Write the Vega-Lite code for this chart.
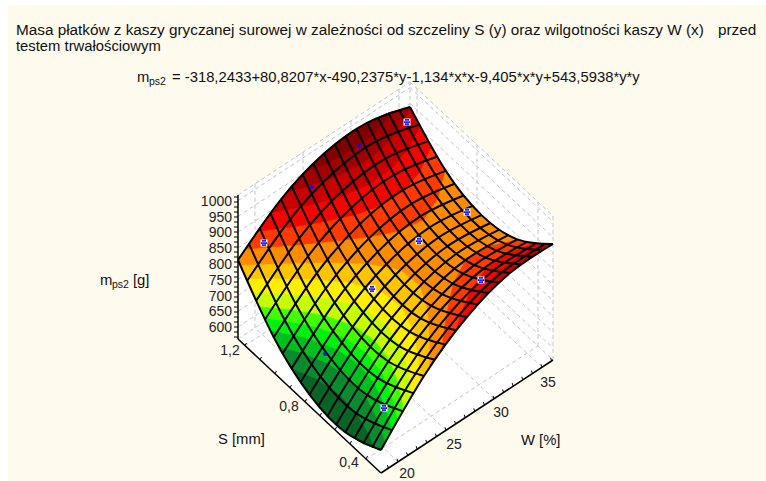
{"$schema":"https://vega.github.io/schema/vega-lite/v6.json","width":766,"height":481,"padding":0,"autosize":{"type":"none"},"background":"#FFFAEE","view":{"stroke":null},
"datasets":{
"margin":[{"x":0,"y":0,"x2":8,"y2":481},{"x":0,"y":0,"x2":766,"y2":5}],
"box":[{"x":238,"y":195},{"x":410,"y":82},{"x":553,"y":216},{"x":553,"y":360},{"x":381,"y":473},{"x":238,"y":339}],
"grid":[
{"x":238,"y":327,"x2":410,"y2":214},{"x":238,"y":311.2,"x2":410,"y2":198.2},{"x":238,"y":295.4,"x2":410,"y2":182.4},{"x":238,"y":279.6,"x2":410,"y2":166.6},{"x":238,"y":263.8,"x2":410,"y2":150.8},{"x":238,"y":248,"x2":410,"y2":135},{"x":238,"y":232.2,"x2":410,"y2":119.2},{"x":238,"y":216.4,"x2":410,"y2":103.4},{"x":238,"y":200.6,"x2":410,"y2":87.6},{"x":238,"y":195,"x2":410,"y2":82},{"x":238,"y":339,"x2":410,"y2":226},
{"x":410,"y":214,"x2":553,"y2":348},{"x":410,"y":198.2,"x2":553,"y2":332.2},{"x":410,"y":182.4,"x2":553,"y2":316.4},{"x":410,"y":166.6,"x2":553,"y2":300.6},{"x":410,"y":150.8,"x2":553,"y2":284.8},{"x":410,"y":135,"x2":553,"y2":269},{"x":410,"y":119.2,"x2":553,"y2":253.2},{"x":410,"y":103.4,"x2":553,"y2":237.4},{"x":410,"y":87.6,"x2":553,"y2":221.6},{"x":410,"y":82,"x2":553,"y2":216},{"x":410,"y":226,"x2":553,"y2":360},
{"x":255,"y":327.8,"x2":255,"y2":183.8},{"x":303,"y":296.3,"x2":303,"y2":152.3},{"x":351,"y":264.8,"x2":351,"y2":120.8},{"x":399,"y":233.2,"x2":399,"y2":89.2},{"x":410,"y":226,"x2":410,"y2":82},{"x":553,"y":360,"x2":553,"y2":216},{"x":417,"y":232.6,"x2":417,"y2":88.6},{"x":477,"y":288.8,"x2":477,"y2":144.8},{"x":538,"y":346,"x2":538,"y2":202},
{"x":398,"y":461.8,"x2":255,"y2":327.8},{"x":446,"y":430.3,"x2":303,"y2":296.3},{"x":494,"y":398.8,"x2":351,"y2":264.8},{"x":542,"y":367.2,"x2":399,"y2":233.2},{"x":245,"y":345.6,"x2":417,"y2":232.6},{"x":305,"y":401.8,"x2":477,"y2":288.8},{"x":366,"y":459,"x2":538,"y2":346}],
"axes":[{"x":238,"y":195,"x2":238,"y2":339},{"x":238,"y":339,"x2":381,"y2":473},{"x":381,"y":473,"x2":553,"y2":360}],
"ticks":[
{"x":234,"y":197,"x2":238,"y2":197},{"x":234,"y":202,"x2":238,"y2":202},{"x":234,"y":207,"x2":238,"y2":207},{"x":234,"y":212,"x2":238,"y2":212},{"x":234,"y":217,"x2":238,"y2":217},{"x":234,"y":222,"x2":238,"y2":222},{"x":234,"y":227,"x2":238,"y2":227},{"x":234,"y":232,"x2":238,"y2":232},{"x":234,"y":237,"x2":238,"y2":237},{"x":234,"y":242,"x2":238,"y2":242},{"x":234,"y":247,"x2":238,"y2":247},{"x":234,"y":252,"x2":238,"y2":252},{"x":234,"y":257,"x2":238,"y2":257},{"x":234,"y":262,"x2":238,"y2":262},{"x":234,"y":267,"x2":238,"y2":267},{"x":234,"y":272,"x2":238,"y2":272},{"x":234,"y":277,"x2":238,"y2":277},{"x":234,"y":282,"x2":238,"y2":282},{"x":234,"y":287,"x2":238,"y2":287},{"x":234,"y":292,"x2":238,"y2":292},{"x":234,"y":297,"x2":238,"y2":297},{"x":234,"y":302,"x2":238,"y2":302},{"x":234,"y":307,"x2":238,"y2":307},{"x":234,"y":312,"x2":238,"y2":312},{"x":234,"y":317,"x2":238,"y2":317},{"x":234,"y":322,"x2":238,"y2":322},{"x":234,"y":327,"x2":238,"y2":327},{"x":234,"y":332,"x2":238,"y2":332},{"x":234,"y":337,"x2":238,"y2":337},
{"x":245,"y":345.6,"x2":246.5,"y2":343},{"x":260,"y":359.7,"x2":261.5,"y2":357},{"x":275,"y":373.7,"x2":276.5,"y2":371},{"x":290,"y":387.8,"x2":291.5,"y2":385},{"x":305,"y":401.8,"x2":306.5,"y2":399},{"x":320,"y":415.9,"x2":321.5,"y2":413},{"x":335,"y":429.9,"x2":336.5,"y2":427},{"x":350,"y":444,"x2":351.5,"y2":441},{"x":366,"y":459,"x2":367.5,"y2":456},
{"x":388.4,"y":468.1,"x2":387.4,"y2":465},{"x":398,"y":461.8,"x2":397,"y2":458.8},{"x":407.6,"y":455.5,"x2":406.6,"y2":452.5},{"x":417.2,"y":449.2,"x2":416.2,"y2":446.2},{"x":426.8,"y":442.9,"x2":425.8,"y2":439.9},{"x":436.4,"y":436.6,"x2":435.4,"y2":433.6},{"x":446,"y":430.3,"x2":445,"y2":427.3},{"x":455.6,"y":424,"x2":454.6,"y2":421},{"x":465.2,"y":417.7,"x2":464.2,"y2":414.7},{"x":474.8,"y":411.4,"x2":473.8,"y2":408.4},{"x":484.4,"y":405.1,"x2":483.4,"y2":402.1},{"x":494,"y":398.8,"x2":493,"y2":395.8},{"x":503.6,"y":392.5,"x2":502.6,"y2":389.5},{"x":513.2,"y":386.1,"x2":512.2,"y2":383.1},{"x":522.8,"y":379.8,"x2":521.8,"y2":376.8},{"x":532.4,"y":373.5,"x2":531.4,"y2":370.5},{"x":542,"y":367.2,"x2":541,"y2":364.2},{"x":551.6,"y":360.9,"x2":550.6,"y2":357.9}],
"bands":[
{"p":"base","b":"800-830","x":381,"y":450},{"p":"base","b":"800-830","x":363.1,"y":443.6},{"p":"base","b":"800-830","x":345.3,"y":432.2},{"p":"base","b":"800-830","x":327.4,"y":415.9},{"p":"base","b":"800-830","x":309.5,"y":394.6},{"p":"base","b":"800-830","x":291.6,"y":368.4},{"p":"base","b":"800-830","x":273.8,"y":337.2},{"p":"base","b":"800-830","x":255.9,"y":301.1},{"p":"base","b":"800-830","x":238,"y":260},{"p":"base","b":"800-830","x":259.5,"y":227.7},{"p":"base","b":"800-830","x":281,"y":199.3},{"p":"base","b":"800-830","x":302.5,"y":174.5},{"p":"base","b":"800-830","x":324,"y":153.5},{"p":"base","b":"800-830","x":345.5,"y":136.2},{"p":"base","b":"800-830","x":367,"y":122.8},{"p":"base","b":"800-830","x":388.5,"y":113},{"p":"base","b":"800-830","x":410,"y":107},{"p":"base","b":"800-830","x":427.9,"y":141.4},{"p":"base","b":"800-830","x":445.8,"y":170.9},{"p":"base","b":"800-830","x":463.6,"y":195.5},{"p":"base","b":"800-830","x":481.5,"y":215.1},{"p":"base","b":"800-830","x":499.4,"y":229.7},{"p":"base","b":"800-830","x":517.3,"y":239.4},{"p":"base","b":"800-830","x":535.1,"y":244.2},{"p":"base","b":"800-830","x":553,"y":244},{"p":"base","b":"800-830","x":531.5,"y":256.6},{"p":"base","b":"800-830","x":510,"y":273},{"p":"base","b":"800-830","x":488.5,"y":293.1},{"p":"base","b":"800-830","x":467,"y":317},{"p":"base","b":"800-830","x":445.5,"y":344.6},{"p":"base","b":"800-830","x":424,"y":376},{"p":"base","b":"800-830","x":402.5,"y":411.1},
{"p":"l800","b":"775-800","x":429.3,"y":368},{"p":"l800","b":"775-800","x":429.3,"y":338.4},{"p":"l800","b":"775-800","x":427.3,"y":310.3},{"p":"l800","b":"775-800","x":419.7,"y":286.1},{"p":"l800","b":"775-800","x":400.1,"y":270.1},{"p":"l800","b":"775-800","x":366.1,"y":264},{"p":"l800","b":"775-800","x":324.7,"y":262.9},{"p":"l800","b":"775-800","x":280.2,"y":264},{"p":"l800","b":"775-800","x":240.3,"y":265.5},{"p":"l800","b":"775-800","x":246.9,"y":281.2},{"p":"l800","b":"775-800","x":255.9,"y":301.1},{"p":"l800","b":"775-800","x":273.8,"y":337.2},{"p":"l800","b":"775-800","x":291.6,"y":368.4},{"p":"l800","b":"775-800","x":309.5,"y":394.6},{"p":"l800","b":"775-800","x":327.4,"y":415.9},{"p":"l800","b":"775-800","x":345.3,"y":432.2},{"p":"l800","b":"775-800","x":363.1,"y":443.6},{"p":"l800","b":"775-800","x":381,"y":450},{"p":"l800","b":"775-800","x":402.5,"y":411.1},{"p":"l800","b":"775-800","x":424,"y":376},
{"p":"l775","b":"750-775","x":420,"y":382.3},{"p":"l775","b":"750-775","x":417.7,"y":354.3},{"p":"l775","b":"750-775","x":412.3,"y":328.6},{"p":"l775","b":"750-775","x":400.9,"y":306.9},{"p":"l775","b":"750-775","x":380.3,"y":291.5},{"p":"l775","b":"750-775","x":349.6,"y":283.1},{"p":"l775","b":"750-775","x":311.9,"y":279.6},{"p":"l775","b":"750-775","x":270.1,"y":278.8},{"p":"l775","b":"750-775","x":246,"y":279},{"p":"l775","b":"750-775","x":255.9,"y":301.1},{"p":"l775","b":"750-775","x":273.8,"y":337.2},{"p":"l775","b":"750-775","x":291.6,"y":368.4},{"p":"l775","b":"750-775","x":309.5,"y":394.6},{"p":"l775","b":"750-775","x":327.4,"y":415.9},{"p":"l775","b":"750-775","x":345.3,"y":432.2},{"p":"l775","b":"750-775","x":363.1,"y":443.6},{"p":"l775","b":"750-775","x":381,"y":450},{"p":"l775","b":"750-775","x":402.5,"y":411.1},
{"p":"l750","b":"725-750","x":411.5,"y":396},{"p":"l750","b":"725-750","x":407.4,"y":369.3},{"p":"l750","b":"725-750","x":399.9,"y":345},{"p":"l750","b":"725-750","x":386.7,"y":324.6},{"p":"l750","b":"725-750","x":365.7,"y":309.5},{"p":"l750","b":"725-750","x":336.5,"y":300},{"p":"l750","b":"725-750","x":300.9,"y":295.1},{"p":"l750","b":"725-750","x":261,"y":292.9},{"p":"l750","b":"725-750","x":252,"y":292.6},{"p":"l750","b":"725-750","x":255.9,"y":301.1},{"p":"l750","b":"725-750","x":273.8,"y":337.2},{"p":"l750","b":"725-750","x":291.6,"y":368.4},{"p":"l750","b":"725-750","x":309.5,"y":394.6},{"p":"l750","b":"725-750","x":327.4,"y":415.9},{"p":"l750","b":"725-750","x":345.3,"y":432.2},{"p":"l750","b":"725-750","x":363.1,"y":443.6},{"p":"l750","b":"725-750","x":381,"y":450},{"p":"l750","b":"725-750","x":402.5,"y":411.1},
{"p":"l725","b":"705-725","x":403.5,"y":409.4},{"p":"l725","b":"705-725","x":398.1,"y":383.6},{"p":"l725","b":"705-725","x":389.1,"y":360.3},{"p":"l725","b":"705-725","x":374.7,"y":340.7},{"p":"l725","b":"705-725","x":353.5,"y":325.7},{"p":"l725","b":"705-725","x":325.2,"y":315.7},{"p":"l725","b":"705-725","x":291,"y":309.7},{"p":"l725","b":"705-725","x":258.6,"y":306.9},{"p":"l725","b":"705-725","x":273.8,"y":337.2},{"p":"l725","b":"705-725","x":291.6,"y":368.4},{"p":"l725","b":"705-725","x":309.5,"y":394.6},{"p":"l725","b":"705-725","x":327.4,"y":415.9},{"p":"l725","b":"705-725","x":345.3,"y":432.2},{"p":"l725","b":"705-725","x":363.1,"y":443.6},{"p":"l725","b":"705-725","x":381,"y":450},
{"p":"l705","b":"685-705","x":397.5,"y":419.9},{"p":"l705","b":"685-705","x":391.2,"y":394.7},{"p":"l705","b":"685-705","x":381.2,"y":372},{"p":"l705","b":"685-705","x":366.2,"y":352.9},{"p":"l705","b":"685-705","x":344.9,"y":338},{"p":"l705","b":"685-705","x":317.1,"y":327.6},{"p":"l705","b":"685-705","x":283.7,"y":321},{"p":"l705","b":"685-705","x":264.3,"y":318.7},{"p":"l705","b":"685-705","x":273.8,"y":337.2},{"p":"l705","b":"685-705","x":291.6,"y":368.4},{"p":"l705","b":"685-705","x":309.5,"y":394.6},{"p":"l705","b":"685-705","x":327.4,"y":415.9},{"p":"l705","b":"685-705","x":345.3,"y":432.2},{"p":"l705","b":"685-705","x":363.1,"y":443.6},{"p":"l705","b":"685-705","x":381,"y":450},
{"p":"l685","b":"660-685","x":391.7,"y":430.2},{"p":"l685","b":"660-685","x":384.6,"y":405.5},{"p":"l685","b":"660-685","x":373.9,"y":383.3},{"p":"l685","b":"660-685","x":358.4,"y":364.5},{"p":"l685","b":"660-685","x":337,"y":349.7},{"p":"l685","b":"660-685","x":309.6,"y":339.1},{"p":"l685","b":"660-685","x":276.9,"y":332},{"p":"l685","b":"660-685","x":270.5,"y":331},{"p":"l685","b":"660-685","x":273.8,"y":337.2},{"p":"l685","b":"660-685","x":291.6,"y":368.4},{"p":"l685","b":"660-685","x":309.5,"y":394.6},{"p":"l685","b":"660-685","x":327.4,"y":415.9},{"p":"l685","b":"660-685","x":345.3,"y":432.2},{"p":"l685","b":"660-685","x":363.1,"y":443.6},{"p":"l685","b":"660-685","x":381,"y":450},
{"p":"l660","b":"630-660","x":384.9,"y":442.8},{"p":"l660","b":"630-660","x":376.9,"y":418.7},{"p":"l660","b":"630-660","x":365.5,"y":397},{"p":"l660","b":"630-660","x":349.4,"y":378.6},{"p":"l660","b":"630-660","x":327.9,"y":363.9},{"p":"l660","b":"630-660","x":300.9,"y":352.9},{"p":"l660","b":"630-660","x":279.3,"y":347.5},{"p":"l660","b":"630-660","x":291.6,"y":368.4},{"p":"l660","b":"630-660","x":309.5,"y":394.6},{"p":"l660","b":"630-660","x":327.4,"y":415.9},{"p":"l660","b":"630-660","x":345.3,"y":432.2},{"p":"l660","b":"630-660","x":363.1,"y":443.6},{"p":"l660","b":"630-660","x":381,"y":450},
{"p":"l630","b":"<630","x":373.9,"y":448},{"p":"l630","b":"<630","x":368.3,"y":434.1},{"p":"l630","b":"<630","x":356,"y":413},{"p":"l630","b":"<630","x":339.5,"y":394.9},{"p":"l630","b":"<630","x":317.9,"y":380.2},{"p":"l630","b":"<630","x":291.6,"y":368.4},{"p":"l630","b":"<630","x":309.5,"y":394.6},{"p":"l630","b":"<630","x":327.4,"y":415.9},{"p":"l630","b":"<630","x":345.3,"y":432.2},{"p":"l630","b":"<630","x":363.1,"y":443.6},
{"p":"t830","b":"830-860","x":245,"y":249.1},{"p":"t830","b":"830-860","x":267.9,"y":247.2},{"p":"t830","b":"830-860","x":301.7,"y":244.4},{"p":"t830","b":"830-860","x":335.1,"y":241.1},{"p":"t830","b":"830-860","x":367.7,"y":237.1},{"p":"t830","b":"830-860","x":398.4,"y":231.2},{"p":"t830","b":"830-860","x":423.4,"y":219.8},{"p":"t830","b":"830-860","x":437.8,"y":198.2},{"p":"t830","b":"830-860","x":445.1,"y":169.9},{"p":"t830","b":"830-860","x":427.9,"y":141.4},{"p":"t830","b":"830-860","x":410,"y":107},{"p":"t830","b":"830-860","x":388.5,"y":113},{"p":"t830","b":"830-860","x":367,"y":122.8},{"p":"t830","b":"830-860","x":345.5,"y":136.2},{"p":"t830","b":"830-860","x":324,"y":153.5},{"p":"t830","b":"830-860","x":302.5,"y":174.5},{"p":"t830","b":"830-860","x":281,"y":199.3},{"p":"t830","b":"830-860","x":259.5,"y":227.7},
{"p":"b830","b":"830-860","x":441.7,"y":349.9},{"p":"b830","b":"830-860","x":442.4,"y":344.3},{"p":"b830","b":"830-860","x":446.8,"y":313.1},{"p":"b830","b":"830-860","x":453.3,"y":283.8},{"p":"b830","b":"830-860","x":465.4,"y":260.1},{"p":"b830","b":"830-860","x":488.1,"y":246.5},{"p":"b830","b":"830-860","x":517.9,"y":239.7},{"p":"b830","b":"830-860","x":535.1,"y":244.2},{"p":"b830","b":"830-860","x":553,"y":244},{"p":"b830","b":"830-860","x":531.5,"y":256.6},{"p":"b830","b":"830-860","x":510,"y":273},{"p":"b830","b":"830-860","x":488.5,"y":293.1},{"p":"b830","b":"830-860","x":467,"y":317},
{"p":"t860","b":"860-890","x":256.9,"y":231.5},{"p":"t860","b":"860-890","x":260.9,"y":231},{"p":"t860","b":"860-890","x":293.3,"y":226.8},{"p":"t860","b":"860-890","x":324.7,"y":221.6},{"p":"t860","b":"860-890","x":354.5,"y":214.9},{"p":"t860","b":"860-890","x":381.4,"y":205.4},{"p":"t860","b":"860-890","x":403.6,"y":191.3},{"p":"t860","b":"860-890","x":419.8,"y":171.6},{"p":"t860","b":"860-890","x":431,"y":147},{"p":"t860","b":"860-890","x":427.9,"y":141.4},{"p":"t860","b":"860-890","x":410,"y":107},{"p":"t860","b":"860-890","x":388.5,"y":113},{"p":"t860","b":"860-890","x":367,"y":122.8},{"p":"t860","b":"860-890","x":345.5,"y":136.2},{"p":"t860","b":"860-890","x":324,"y":153.5},{"p":"t860","b":"860-890","x":302.5,"y":174.5},{"p":"t860","b":"860-890","x":281,"y":199.3},
{"p":"b860","b":"860-890","x":456.1,"y":330.5},{"p":"b860","b":"860-890","x":460.1,"y":316.4},{"p":"b860","b":"860-890","x":470.3,"y":290.7},{"p":"b860","b":"860-890","x":485.2,"y":269.6},{"p":"b860","b":"860-890","x":506,"y":254.2},{"p":"b860","b":"860-890","x":532,"y":243.7},{"p":"b860","b":"860-890","x":535.1,"y":244.2},{"p":"b860","b":"860-890","x":553,"y":244},{"p":"b860","b":"860-890","x":531.5,"y":256.6},{"p":"b860","b":"860-890","x":510,"y":273},{"p":"b860","b":"860-890","x":488.5,"y":293.1},{"p":"b860","b":"860-890","x":467,"y":317},
{"p":"t890","b":"890-920","x":270.5,"y":212.7},{"p":"t890","b":"890-920","x":285.7,"y":210},{"p":"t890","b":"890-920","x":315.7,"y":203.6},{"p":"t890","b":"890-920","x":343.9,"y":195.3},{"p":"t890","b":"890-920","x":369.2,"y":184.2},{"p":"t890","b":"890-920","x":390.6,"y":169.4},{"p":"t890","b":"890-920","x":407.4,"y":150.1},{"p":"t890","b":"890-920","x":420.1,"y":127},{"p":"t890","b":"890-920","x":410,"y":107},{"p":"t890","b":"890-920","x":388.5,"y":113},{"p":"t890","b":"890-920","x":367,"y":122.8},{"p":"t890","b":"890-920","x":345.5,"y":136.2},{"p":"t890","b":"890-920","x":324,"y":153.5},{"p":"t890","b":"890-920","x":302.5,"y":174.5},{"p":"t890","b":"890-920","x":281,"y":199.3},
{"p":"b890","b":"890-920","x":474.2,"y":308.6},{"p":"b890","b":"890-920","x":482.4,"y":292.9},{"p":"b890","b":"890-920","x":498.1,"y":272.6},{"p":"b890","b":"890-920","x":518.4,"y":256.6},{"p":"b890","b":"890-920","x":542.9,"y":244.7},{"p":"b890","b":"890-920","x":553,"y":244},{"p":"b890","b":"890-920","x":531.5,"y":256.6},{"p":"b890","b":"890-920","x":510,"y":273},{"p":"b890","b":"890-920","x":488.5,"y":293.1},
{"p":"t920","b":"920-945","x":287.1,"y":191.9},{"p":"t920","b":"920-945","x":307.8,"y":186.4},{"p":"t920","b":"920-945","x":334.9,"y":177.1},{"p":"t920","b":"920-945","x":359.3,"y":165.2},{"p":"t920","b":"920-945","x":380.2,"y":150},{"p":"t920","b":"920-945","x":397.3,"y":131},{"p":"t920","b":"920-945","x":410.8,"y":108.6},{"p":"t920","b":"920-945","x":410,"y":107},{"p":"t920","b":"920-945","x":388.5,"y":113},{"p":"t920","b":"920-945","x":367,"y":122.8},{"p":"t920","b":"920-945","x":345.5,"y":136.2},{"p":"t920","b":"920-945","x":324,"y":153.5},{"p":"t920","b":"920-945","x":302.5,"y":174.5},
{"p":"b920","b":"920-945","x":502.3,"y":279.8},{"p":"b920","b":"920-945","x":508.5,"y":273.1},{"p":"b920","b":"920-945","x":528.6,"y":256.8},{"p":"b920","b":"920-945","x":552.2,"y":244.1},{"p":"b920","b":"920-945","x":553,"y":244},{"p":"b920","b":"920-945","x":531.5,"y":256.6},{"p":"b920","b":"920-945","x":510,"y":273},
{"p":"t945","b":">945","x":305.4,"y":171.5},{"p":"t945","b":">945","x":328.2,"y":162.8},{"p":"t945","b":">945","x":352,"y":150.3},{"p":"t945","b":">945","x":372.7,"y":134.8},{"p":"t945","b":">945","x":389.9,"y":116},{"p":"t945","b":">945","x":393.4,"y":111.3},{"p":"t945","b":">945","x":388.5,"y":113},{"p":"t945","b":">945","x":367,"y":122.8},{"p":"t945","b":">945","x":345.5,"y":136.2},{"p":"t945","b":">945","x":324,"y":153.5}],
"mesh":[
{"l":"w0","x":381,"y":450},{"l":"w0","x":345.25,"y":432.2},{"l":"w0","x":309.5,"y":394.6},{"l":"w0","x":273.75,"y":337.2},{"l":"w0","x":238,"y":260},
{"l":"w1","x":391.8,"y":430.1},{"l":"w1","x":356,"y":413.1},{"l":"w1","x":320.3,"y":376.3},{"l":"w1","x":284.5,"y":319.8},{"l":"w1","x":248.8,"y":243.4},
{"l":"w2","x":402.5,"y":411.1},{"l":"w2","x":366.8,"y":394.9},{"l":"w2","x":331,"y":359},{"l":"w2","x":295.3,"y":303.3},{"l":"w2","x":259.5,"y":227.7},
{"l":"w3","x":413.3,"y":393.1},{"l":"w3","x":377.5,"y":377.8},{"l":"w3","x":341.8,"y":342.6},{"l":"w3","x":306,"y":287.7},{"l":"w3","x":270.3,"y":213},
{"l":"w4","x":424,"y":376},{"l":"w4","x":388.3,"y":361.5},{"l":"w4","x":352.5,"y":327.2},{"l":"w4","x":316.8,"y":273.1},{"l":"w4","x":281,"y":199.3},
{"l":"w5","x":434.8,"y":359.8},{"l":"w5","x":399,"y":346.1},{"l":"w5","x":363.3,"y":312.7},{"l":"w5","x":327.5,"y":259.4},{"l":"w5","x":291.8,"y":186.4},
{"l":"w6","x":445.5,"y":344.6},{"l":"w6","x":409.8,"y":331.8},{"l":"w6","x":374,"y":299.1},{"l":"w6","x":338.3,"y":246.7},{"l":"w6","x":302.5,"y":174.5},
{"l":"w7","x":456.3,"y":330.3},{"l":"w7","x":420.5,"y":318.3},{"l":"w7","x":384.8,"y":286.5},{"l":"w7","x":349,"y":234.9},{"l":"w7","x":313.3,"y":163.5},
{"l":"w8","x":467,"y":317},{"l":"w8","x":431.3,"y":305.8},{"l":"w8","x":395.5,"y":274.8},{"l":"w8","x":359.8,"y":224.1},{"l":"w8","x":324,"y":153.5},
{"l":"w9","x":477.8,"y":304.6},{"l":"w9","x":442,"y":294.2},{"l":"w9","x":406.3,"y":264.1},{"l":"w9","x":370.5,"y":214.1},{"l":"w9","x":334.8,"y":144.4},
{"l":"w10","x":488.5,"y":293.1},{"l":"w10","x":452.8,"y":283.6},{"l":"w10","x":417,"y":254.2},{"l":"w10","x":381.3,"y":205.1},{"l":"w10","x":345.5,"y":136.2},
{"l":"w11","x":499.3,"y":282.6},{"l":"w11","x":463.5,"y":273.9},{"l":"w11","x":427.8,"y":245.4},{"l":"w11","x":392,"y":197.1},{"l":"w11","x":356.3,"y":129},
{"l":"w12","x":510,"y":273},{"l":"w12","x":474.3,"y":265.1},{"l":"w12","x":438.5,"y":237.5},{"l":"w12","x":402.8,"y":190},{"l":"w12","x":367,"y":122.8},
{"l":"w13","x":520.8,"y":264.3},{"l":"w13","x":485,"y":257.3},{"l":"w13","x":449.3,"y":230.4},{"l":"w13","x":413.5,"y":183.8},{"l":"w13","x":377.8,"y":117.4},
{"l":"w14","x":531.5,"y":256.6},{"l":"w14","x":495.8,"y":250.4},{"l":"w14","x":460,"y":224.4},{"l":"w14","x":424.3,"y":178.6},{"l":"w14","x":388.5,"y":113},
{"l":"w15","x":542.3,"y":249.8},{"l":"w15","x":506.5,"y":244.4},{"l":"w15","x":470.8,"y":219.2},{"l":"w15","x":435,"y":174.3},{"l":"w15","x":399.3,"y":109.5},
{"l":"w16","x":553,"y":244},{"l":"w16","x":517.3,"y":239.4},{"l":"w16","x":481.5,"y":215.1},{"l":"w16","x":445.8,"y":170.9},{"l":"w16","x":410,"y":107},
{"l":"s0","x":381,"y":450},{"l":"s0","x":424,"y":376},{"l":"s0","x":467,"y":317},{"l":"s0","x":510,"y":273},{"l":"s0","x":553,"y":244},
{"l":"s1","x":372.1,"y":447.4},{"l":"s1","x":415.1,"y":374.2},{"l":"s1","x":458.1,"y":316.1},{"l":"s1","x":501.1,"y":272.9},{"l":"s1","x":544.1,"y":244.7},
{"l":"s2","x":363.1,"y":443.6},{"l":"s2","x":406.1,"y":371.2},{"l":"s2","x":449.1,"y":313.9},{"l":"s2","x":492.1,"y":271.5},{"l":"s2","x":535.1,"y":244.2},
{"l":"s3","x":354.2,"y":438.5},{"l":"s3","x":397.2,"y":367},{"l":"s3","x":440.2,"y":310.5},{"l":"s3","x":483.2,"y":268.9},{"l":"s3","x":526.2,"y":242.4},
{"l":"s4","x":345.3,"y":432.2},{"l":"s4","x":388.3,"y":361.5},{"l":"s4","x":431.3,"y":305.8},{"l":"s4","x":474.3,"y":265.1},{"l":"s4","x":517.3,"y":239.4},
{"l":"s5","x":336.3,"y":424.6},{"l":"s5","x":379.3,"y":354.8},{"l":"s5","x":422.3,"y":300},{"l":"s5","x":465.3,"y":260.1},{"l":"s5","x":508.3,"y":235.2},
{"l":"s6","x":327.4,"y":415.9},{"l":"s6","x":370.4,"y":346.8},{"l":"s6","x":413.4,"y":292.8},{"l":"s6","x":456.4,"y":253.8},{"l":"s6","x":499.4,"y":229.7},
{"l":"s7","x":318.4,"y":405.8},{"l":"s7","x":361.4,"y":337.6},{"l":"s7","x":404.4,"y":284.4},{"l":"s7","x":447.4,"y":246.2},{"l":"s7","x":490.4,"y":223},
{"l":"s8","x":309.5,"y":394.6},{"l":"s8","x":352.5,"y":327.2},{"l":"s8","x":395.5,"y":274.8},{"l":"s8","x":438.5,"y":237.5},{"l":"s8","x":481.5,"y":215.1},
{"l":"s9","x":300.6,"y":382.1},{"l":"s9","x":343.6,"y":315.5},{"l":"s9","x":386.6,"y":264},{"l":"s9","x":429.6,"y":227.4},{"l":"s9","x":472.6,"y":205.9},
{"l":"s10","x":291.6,"y":368.4},{"l":"s10","x":334.6,"y":302.6},{"l":"s10","x":377.6,"y":251.9},{"l":"s10","x":420.6,"y":216.2},{"l":"s10","x":463.6,"y":195.5},
{"l":"s11","x":282.7,"y":353.4},{"l":"s11","x":325.7,"y":288.5},{"l":"s11","x":368.7,"y":238.6},{"l":"s11","x":411.7,"y":203.7},{"l":"s11","x":454.7,"y":183.8},
{"l":"s12","x":273.8,"y":337.2},{"l":"s12","x":316.8,"y":273.1},{"l":"s12","x":359.8,"y":224.1},{"l":"s12","x":402.8,"y":190},{"l":"s12","x":445.8,"y":170.9},
{"l":"s13","x":264.8,"y":319.7},{"l":"s13","x":307.8,"y":256.5},{"l":"s13","x":350.8,"y":208.3},{"l":"s13","x":393.8,"y":175},{"l":"s13","x":436.8,"y":156.8},
{"l":"s14","x":255.9,"y":301.1},{"l":"s14","x":298.9,"y":238.7},{"l":"s14","x":341.9,"y":191.3},{"l":"s14","x":384.9,"y":158.8},{"l":"s14","x":427.9,"y":141.4},
{"l":"s15","x":246.9,"y":281.2},{"l":"s15","x":289.9,"y":219.6},{"l":"s15","x":332.9,"y":173},{"l":"s15","x":375.9,"y":141.4},{"l":"s15","x":418.9,"y":124.8},
{"l":"s16","x":238,"y":260},{"l":"s16","x":281,"y":199.3},{"l":"s16","x":324,"y":153.5},{"l":"s16","x":367,"y":122.8},{"l":"s16","x":410,"y":107}],
"obs":[{"x":264,"y":243},{"x":407,"y":122},{"x":467,"y":212},{"x":419,"y":241},{"x":481,"y":280},{"x":384,"y":408},{"x":372,"y":289}],
"hidden":[{"x":312,"y":187},{"x":359,"y":146},{"x":325,"y":354}],
"head":[{"x":16,"y":30,"t":"Masa płatków z kaszy gryczanej surowej w zależności od szczeliny S (y) oraz wilgotności kaszy W (x)"},{"x":718,"y":30,"t":"przed"}],
"title":[{"x":16,"y":47,"t":"testem trwałościowym"},{"x":137,"y":78,"t":"m"},{"x":172,"y":78,"t":"= -318,2433+80,8207*x-490,2375*y-1,134*x*x-9,405*x*y+543,5938*y*y"},{"x":100,"y":281,"t":"m"},{"x":133,"y":281,"t":"[g]"},{"x":218,"y":440,"t":"S [mm]"},{"x":521,"y":441,"t":"W [%]"}],
"subs":[{"x":149,"y":82,"t":"ps2"},{"x":112,"y":285,"t":"ps2"}],
"zlab":[{"x":232,"y":201.7,"t":"1000"},{"x":232,"y":217.5,"t":"950"},{"x":232,"y":233.3,"t":"900"},{"x":232,"y":249.1,"t":"850"},{"x":232,"y":264.9,"t":"800"},{"x":232,"y":280.7,"t":"750"},{"x":232,"y":296.5,"t":"700"},{"x":232,"y":312.3,"t":"650"},{"x":232,"y":328.1,"t":"600"}],
"axlab":[{"x":230,"y":351,"t":"1,2"},{"x":289,"y":407,"t":"0,8"},{"x":349,"y":463,"t":"0,4"},{"x":407,"y":474,"t":"20"},{"x":454,"y":445,"t":"25"},{"x":501,"y":413,"t":"30"},{"x":548,"y":383,"t":"35"}]
},
"encoding":{"x":{"field":"x","type":"quantitative","scale":{"domain":[0,766],"nice":false,"zero":false},"axis":null},"y":{"field":"y","type":"quantitative","scale":{"domain":[0,481],"reverse":true,"nice":false,"zero":false},"axis":null}},
"layer":[
{"data":{"name":"margin"},"mark":{"type":"rect","fill":"#ffffff"},"encoding":{"x2":{"field":"x2"},"y2":{"field":"y2"}}},
{"data":{"name":"box"},"mark":{"type":"line","order":false,"fill":"#ffffff","stroke":null},"encoding":{}},
{"data":{"name":"grid"},"mark":{"type":"rule","stroke":"#c4c4c4","strokeWidth":1,"strokeDash":[4,3]},"encoding":{"x2":{"field":"x2"},"y2":{"field":"y2"}}},
{"data":{"name":"axes"},"mark":{"type":"rule","stroke":"#000000","strokeWidth":1.5},"encoding":{"x2":{"field":"x2"},"y2":{"field":"y2"}}},
{"data":{"name":"ticks"},"mark":{"type":"rule","stroke":"#000000","strokeWidth":1},"encoding":{"x2":{"field":"x2"},"y2":{"field":"y2"}}},
{"data":{"name":"bands"},"mark":{"type":"line","order":false,"strokeWidth":0.5},"encoding":{"detail":{"field":"p"},"fill":{"field":"b","type":"nominal","legend":null,"scale":{"domain":["<630","630-660","660-685","685-705","705-725","725-750","750-775","775-800","800-830","830-860","860-890","890-920","920-945",">945"],"range":["#0a6428","#0b8a30","#00c020","#00f010","#40ff00","#c8ff00","#ffee00","#ffc400","#ff8c00","#ff3a00","#f00800","#c80000","#a00000","#820000"]}},"stroke":{"field":"b","type":"nominal","legend":null,"scale":{"domain":["<630","630-660","660-685","685-705","705-725","725-750","750-775","775-800","800-830","830-860","860-890","890-920","920-945",">945"],"range":["#0a6428","#0b8a30","#00c020","#00f010","#40ff00","#c8ff00","#ffee00","#ffc400","#ff8c00","#ff3a00","#f00800","#c80000","#a00000","#820000"]}}}},
{"data":{"name":"mesh"},"mark":{"type":"line","order":false,"interpolate":"natural","stroke":"#000000","strokeWidth":2},"encoding":{"detail":{"field":"l"}}},
{"data":{"name":"obs"},"mark":{"type":"point","shape":"square","filled":true,"fill":"#ffffff","opacity":1,"size":49,"strokeWidth":0},"encoding":{}},
{"data":{"name":"obs"},"mark":{"type":"point","shape":"M-0.55,-0.85H-0.05V-0.35H-0.55ZM0.05,-0.85H0.55V-0.35H0.05ZM-0.85,-0.25H-0.35V0.25H-0.85ZM-0.25,-0.25H0.25V0.25H-0.25ZM0.35,-0.25H0.85V0.25H0.35ZM-0.55,0.35H-0.05V0.85H-0.55ZM0.05,0.35H0.55V0.85H0.05Z","filled":true,"fill":"#0000ff","opacity":1,"size":49,"strokeWidth":0},"encoding":{}},
{"data":{"name":"hidden"},"mark":{"type":"point","shape":"square","filled":true,"fill":"#0a0aff","opacity":1,"size":12,"strokeWidth":0},"encoding":{}},
{"data":{"name":"head"},"mark":{"type":"text","align":"left","baseline":"middle","font":"Liberation Sans","fontSize":15.3,"fill":"#111111"},"encoding":{"text":{"field":"t"}}},
{"data":{"name":"title"},"mark":{"type":"text","align":"left","baseline":"middle","font":"Liberation Sans","fontSize":14.8,"fill":"#111111"},"encoding":{"text":{"field":"t"}}},
{"data":{"name":"subs"},"mark":{"type":"text","align":"left","baseline":"middle","font":"Liberation Sans","fontSize":10.5,"fill":"#111111"},"encoding":{"text":{"field":"t"}}},
{"data":{"name":"zlab"},"mark":{"type":"text","align":"right","baseline":"middle","font":"Liberation Sans","fontSize":14,"fill":"#222222"},"encoding":{"text":{"field":"t"}}},
{"data":{"name":"axlab"},"mark":{"type":"text","align":"center","baseline":"middle","font":"Liberation Sans","fontSize":14,"fill":"#222222"},"encoding":{"text":{"field":"t"}}}
]}
